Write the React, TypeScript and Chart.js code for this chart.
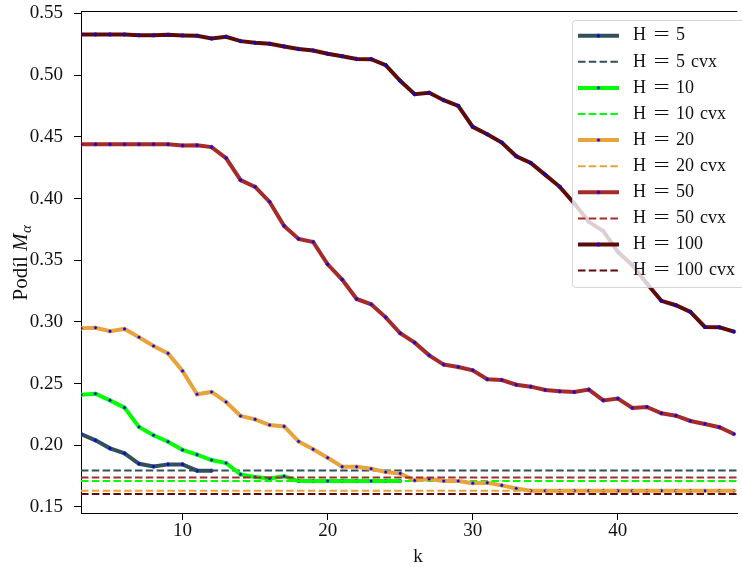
import { useEffect, useRef } from "react";
import { Chart, registerables } from "chart.js";

Chart.register(...registerables);

// k runs from 3 upwards for every series
const K_START = 3;
const H_VALUES = [5, 10, 20, 50, 100];
const COLORS = ["#32505c", "#00ff00", "#e8a33c", "#a52a2a", "#5c0a0a"];

const M_H5 = [0.209, 0.204, 0.1975, 0.1934, 0.185, 0.1828, 0.1845, 0.1845, 0.1794, 0.1794];

const M_H10 = [
  0.241, 0.2418, 0.2364, 0.2305, 0.2148, 0.2081, 0.2029, 0.1962, 0.1924, 0.188, 0.1856, 0.1764,
  0.1743, 0.173, 0.1749, 0.171, 0.171, 0.171, 0.171, 0.171, 0.171, 0.171, 0.171,
];

const M_H20 = [
  0.2948, 0.2953, 0.2924, 0.2943, 0.2876, 0.2805, 0.2745, 0.2602, 0.2413, 0.2432, 0.2351, 0.2237,
  0.221, 0.2164, 0.2153, 0.2031, 0.1967, 0.1899, 0.1826, 0.1826, 0.181, 0.1783, 0.1772, 0.1715,
  0.1726, 0.171, 0.171, 0.1693, 0.1696, 0.1675, 0.165, 0.1631, 0.1631, 0.1631, 0.1631, 0.1631,
  0.1631, 0.1631, 0.1631, 0.1631, 0.1631, 0.1631, 0.1631, 0.1631, 0.1631, 0.1631,
];

const M_H50 = [
  0.444, 0.444, 0.444, 0.444, 0.444, 0.444, 0.444, 0.443, 0.4431, 0.4417, 0.4328, 0.4149, 0.4095,
  0.3973, 0.3778, 0.3673, 0.3648, 0.3467, 0.3343, 0.3186, 0.3143, 0.3037, 0.2908, 0.2832, 0.2729,
  0.2654, 0.2635, 0.2608, 0.2535, 0.2529, 0.2491, 0.2475, 0.2448, 0.2437, 0.2432, 0.2451, 0.2364,
  0.2378, 0.2302, 0.231, 0.2259, 0.224, 0.2197, 0.2173, 0.2146, 0.2091,
];

const M_H100 = [
  0.533, 0.533, 0.533, 0.533, 0.5324, 0.5324, 0.5327, 0.5322, 0.5319, 0.5297, 0.5311, 0.5276,
  0.5262, 0.5254, 0.5233, 0.5212, 0.52, 0.5173, 0.5154, 0.5131, 0.513, 0.5081, 0.4954, 0.4846,
  0.4857, 0.4797, 0.4751, 0.4581, 0.4521, 0.4454, 0.4343, 0.4289, 0.4192, 0.4095, 0.396, 0.3811,
  0.3736, 0.3568, 0.346, 0.3312, 0.3171, 0.3135, 0.3081, 0.2959, 0.2956, 0.2921,
];

const SERIES = [M_H5, M_H10, M_H20, M_H50, M_H100];
// convex-relaxation reference level for each H
const CVX = [0.1796, 0.171, 0.1631, 0.1739, 0.1604];

const X_TICKS = [10, 20, 30, 40];
const Y_TICKS = [0.15, 0.2, 0.25, 0.3, 0.35, 0.4, 0.45, 0.5, 0.55];
const X_RANGE = [3, 48.24];
const Y_RANGE = [0.1451, 0.5512];

const SERIF = '"Liberation Serif", "Times New Roman", serif';
const TEXT_COLOR = "#111111";

function drawLegendLabel(ctx: CanvasRenderingContext2D, label: string, x: number, y: number) {
  const [lhs, rhs] = label.split(" = ");
  ctx.font = `18px ${SERIF}`;
  ctx.fillStyle = TEXT_COLOR;
  ctx.textBaseline = "middle";
  ctx.textAlign = "left";
  ctx.fillText(lhs, x, y);
  // wide math-style equals sign
  ctx.save();
  ctx.translate(x + 28.6, y);
  ctx.scale(1.6, 1);
  ctx.textAlign = "center";
  ctx.fillText("=", 0, 0);
  ctx.restore();
  let cx = x + 43;
  for (const part of rhs.split(" ")) {
    ctx.fillText(part, cx, y);
    cx += ctx.measureText(part).width + 6;
  }
}

const frameAndLegend = {
  id: "frameAndLegend",
  beforeDatasetsDraw(chart: Chart) {
    const { ctx, chartArea } = chart;
    ctx.save();
    ctx.strokeStyle = "#000000";
    ctx.lineWidth = 1;
    ctx.beginPath();
    ctx.moveTo(chartArea.left, chartArea.top - 0.5);
    ctx.lineTo(chartArea.right, chartArea.top - 0.5);
    ctx.stroke();
    ctx.restore();
  },
  afterDatasetsDraw(chart: Chart) {
    const { ctx } = chart;
    const datasets = chart.data.datasets as any[];
    const boxX = 572.5;
    const boxY = 20.5;
    const boxW = 180;
    const boxH = 267;
    ctx.save();
    ctx.beginPath();
    ctx.roundRect(boxX, boxY, boxW, boxH, 3);
    ctx.fillStyle = "rgba(255,255,255,0.8)";
    ctx.fill();
    ctx.strokeStyle = "rgba(204,204,204,0.8)";
    ctx.lineWidth = 1;
    ctx.stroke();

    datasets.forEach((ds, i) => {
      const y = 35.7 + i * 26.1;
      const x0 = 578;
      const x1 = 619;
      ctx.save();
      ctx.strokeStyle = ds.borderColor;
      ctx.lineWidth = ds.borderWidth;
      ctx.setLineDash(ds.borderDash || []);
      ctx.beginPath();
      ctx.moveTo(x0, y);
      ctx.lineTo(x1, y);
      ctx.stroke();
      ctx.setLineDash([]);
      if (ds.pointRadius > 0) {
        ctx.beginPath();
        ctx.arc((x0 + x1) / 2, y, ds.pointRadius, 0, Math.PI * 2);
        ctx.fillStyle = ds.pointBackgroundColor;
        ctx.fill();
        ctx.lineWidth = ds.pointBorderWidth;
        ctx.strokeStyle = ds.pointBorderColor;
        ctx.stroke();
      }
      ctx.restore();
      drawLegendLabel(ctx, ds.label, 633, y);
    });
    ctx.restore();
  },
  afterDraw(chart: Chart) {
    const { ctx, chartArea } = chart;
    ctx.save();
    ctx.fillStyle = TEXT_COLOR;
    // x axis title
    ctx.font = `19px ${SERIF}`;
    ctx.textAlign = "center";
    ctx.textBaseline = "middle";
    ctx.fillText("k", (chartArea.left + 755) / 2, 557);

    // y axis title: "Podíl M_α"
    const plain = "Podíl ";
    const fPlain = `21px ${SERIF}`;
    const fItal = `italic 21px ${SERIF}`;
    const fSub = `italic 15px ${SERIF}`;
    ctx.font = fPlain;
    const w1 = ctx.measureText(plain).width;
    ctx.font = fItal;
    const w2 = ctx.measureText("M").width;
    ctx.font = fSub;
    const w3 = ctx.measureText("α").width;
    const total = w1 + w2 + w3;
    ctx.translate(27, 263);
    ctx.rotate(-Math.PI / 2);
    ctx.textAlign = "left";
    ctx.textBaseline = "alphabetic";
    let x = -total / 2;
    ctx.font = fPlain;
    ctx.fillText(plain, x, 0);
    x += w1;
    ctx.font = fItal;
    ctx.fillText("M", x, 0);
    x += w2 + 0.5;
    ctx.font = fSub;
    ctx.fillText("α", x, 3.5);
    ctx.restore();
  },
};

export default function App() {
  const canvasRef = useRef<HTMLCanvasElement | null>(null);

  useEffect(() => {
    if (!canvasRef.current) return;
    const datasets: any[] = [];
    H_VALUES.forEach((h, i) => {
      datasets.push({
        label: `H = ${h}`,
        data: SERIES[i].map((v, j) => ({ x: K_START + j, y: v })),
        borderColor: COLORS[i],
        borderWidth: 4,
        pointRadius: 1.8,
        pointBackgroundColor: "#0000ff",
        pointBorderColor: COLORS[i],
        pointBorderWidth: 0.6,
        tension: 0,
        order: 100 - 2 * i,
      });
      datasets.push({
        label: `H = ${h} cvx`,
        data: [
          { x: X_RANGE[0], y: CVX[i] },
          { x: X_RANGE[1], y: CVX[i] },
        ],
        borderColor: COLORS[i],
        borderWidth: 2,
        borderDash: [7.5, 3.3],
        pointRadius: 0,
        tension: 0,
        order: 99 - 2 * i,
      });
    });

    const chart = new Chart(canvasRef.current, {
      type: "line",
      data: { datasets },
      options: {
        responsive: false,
        animation: false,
        devicePixelRatio: 1,
        layout: { padding: { top: 12, right: 0, left: 0, bottom: 0 } },
        plugins: {
          legend: { display: false },
          tooltip: { enabled: false },
        },
        scales: {
          x: {
            type: "linear",
            min: X_RANGE[0],
            max: X_RANGE[1],
            afterBuildTicks: (scale: any) => {
              scale.ticks = X_TICKS.map((v) => ({ value: v }));
            },
            afterFit: (scale: any) => {
              scale.height = 54;
              scale.paddingLeft = 0;
              scale.paddingRight = 0;
            },
            grid: {
              drawOnChartArea: false,
              drawTicks: true,
              tickLength: 7,
              color: "#000000",
              lineWidth: 1,
            },
            border: { display: true, color: "#000000", width: 1 },
            ticks: {
              autoSkip: false,
              maxRotation: 0,
              padding: 0,
              color: TEXT_COLOR,
              font: { family: SERIF, size: 19 },
              callback: (v: any) => String(v),
            },
          },
          y: {
            type: "linear",
            min: Y_RANGE[0],
            max: Y_RANGE[1],
            afterBuildTicks: (scale: any) => {
              scale.ticks = Y_TICKS.map((v) => ({ value: v }));
            },
            afterFit: (scale: any) => {
              scale.width = 81;
              scale.paddingTop = 0;
              scale.paddingBottom = 0;
            },
            grid: {
              drawOnChartArea: false,
              drawTicks: true,
              tickLength: 7,
              color: "#000000",
              lineWidth: 1,
            },
            border: { display: true, color: "#000000", width: 1 },
            ticks: {
              autoSkip: false,
              padding: 11,
              color: TEXT_COLOR,
              font: { family: SERIF, size: 19 },
              callback: (v: any) => Number(v).toFixed(2),
            },
          },
        },
      },
      plugins: [frameAndLegend],
    });
    return () => chart.destroy();
  }, []);

  return (
    <div style={{ position: "fixed", left: 0, top: 0, width: 742, height: 567, background: "#ffffff" }}>
      <canvas ref={canvasRef} width={742} height={567} style={{ display: "block" }} />
    </div>
  );
}
